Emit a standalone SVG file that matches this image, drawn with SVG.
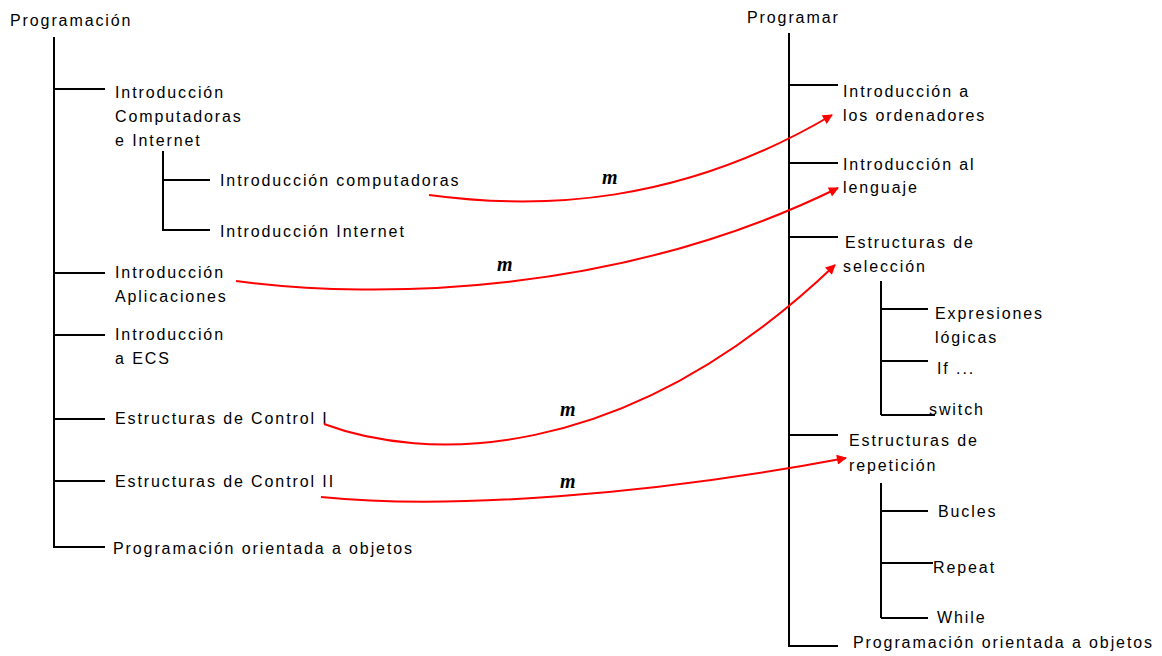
<svg xmlns="http://www.w3.org/2000/svg" width="1162" height="656" viewBox="0 0 1162 656">
  <defs>
    <style>
      .t { font-family: "Liberation Sans", Arial, sans-serif; font-size: 16px; letter-spacing: 1.9px; fill: #000; }
      .tree { stroke: #000; stroke-width: 2; fill: none; }
      .map { stroke: #ff0000; stroke-width: 2; fill: none; marker-end: url(#arrow); }
      .m { font-family: "Liberation Serif", "Times New Roman", serif; font-style: italic; font-weight: bold; font-size: 20px; fill: #000; }
    </style>
    <marker id="arrow" viewBox="0 0 10 10" refX="9" refY="5" markerWidth="11" markerHeight="10" orient="auto" markerUnits="userSpaceOnUse">
      <path d="M0,0 L10,5 L0,10 Z" fill="#ff0000"/>
    </marker>
  </defs>
  <rect width="1162" height="656" fill="#fff"/>

  <!-- Left tree: Programación -->
  <g id="left-tree">
    <g id="l-root">
      <text class="t" x="10" y="26">Programación</text>
      <path class="tree" d="M54,37 V548"/>
    </g>
    <g id="l-intro-comp-internet">
      <path class="tree" d="M54,89 H105"/>
      <text class="t" x="115" y="98">Introducción</text>
      <text class="t" x="115" y="122">Computadoras</text>
      <text class="t" x="115" y="146">e Internet</text>
      <path class="tree" d="M163,151 V231 M163,180 H210 M163,230 H210"/>
    </g>
    <g id="l-intro-computadoras">
      <text class="t" x="220" y="186">Introducción computadoras</text>
    </g>
    <g id="l-intro-internet">
      <text class="t" x="220" y="237">Introducción Internet</text>
    </g>
    <g id="l-intro-aplicaciones">
      <path class="tree" d="M54,273 H105"/>
      <text class="t" x="115" y="278">Introducción</text>
      <text class="t" x="115" y="302">Aplicaciones</text>
    </g>
    <g id="l-intro-ecs">
      <path class="tree" d="M54,335 H105"/>
      <text class="t" x="115" y="340">Introducción</text>
      <text class="t" x="115" y="364">a ECS</text>
    </g>
    <g id="l-control-1">
      <path class="tree" d="M54,419 H105"/>
      <text class="t" x="115" y="424">Estructuras de Control I</text>
    </g>
    <g id="l-control-2">
      <path class="tree" d="M54,481 H105"/>
      <text class="t" x="115" y="487">Estructuras de Control II</text>
    </g>
    <g id="l-poo">
      <path class="tree" d="M54,547 H105"/>
      <text class="t" x="113" y="554">Programación orientada a objetos</text>
    </g>
  </g>

  <!-- Right tree: Programar -->
  <g id="right-tree">
    <g id="r-root">
      <text class="t" x="747" y="23">Programar</text>
      <path class="tree" d="M789,33 V647"/>
    </g>
    <g id="r-intro-ordenadores">
      <path class="tree" d="M789,85 H838"/>
      <text class="t" x="843" y="97">Introducción a</text>
      <text class="t" x="843" y="121">los ordenadores</text>
    </g>
    <g id="r-intro-lenguaje">
      <path class="tree" d="M789,163 H838"/>
      <text class="t" x="843" y="170">Introducción al</text>
      <text class="t" x="843" y="193">lenguaje</text>
    </g>
    <g id="r-seleccion">
      <path class="tree" d="M789,237 H838"/>
      <text class="t" x="845" y="248">Estructuras de</text>
      <text class="t" x="843" y="272">selección</text>
      <path class="tree" d="M881,281 V415 M881,309 H928 M881,361 H928 M881,415 H935"/>
    </g>
    <g id="r-expresiones">
      <text class="t" x="935" y="319">Expresiones</text>
      <text class="t" x="935" y="343">lógicas</text>
    </g>
    <g id="r-if">
      <text class="t" x="937" y="374">If ...</text>
    </g>
    <g id="r-switch">
      <text class="t" x="929" y="415">switch</text>
    </g>
    <g id="r-repeticion">
      <path class="tree" d="M789,435 H838"/>
      <text class="t" x="849" y="446">Estructuras de</text>
      <text class="t" x="849" y="471">repetición</text>
      <path class="tree" d="M881,483 V618 M881,511 H928 M881,563 H933 M881,618 H928"/>
    </g>
    <g id="r-bucles">
      <text class="t" x="938" y="517">Bucles</text>
    </g>
    <g id="r-repeat">
      <text class="t" x="933" y="573">Repeat</text>
    </g>
    <g id="r-while">
      <text class="t" x="937" y="623">While</text>
    </g>
    <g id="r-poo">
      <path class="tree" d="M789,646 H838"/>
      <text class="t" x="853" y="648">Programación orientada a objetos</text>
    </g>
  </g>

  <!-- Mapping connectors -->
  <g id="connectors">
    <path class="map" d="M429,195 C540,210 680,205 832,115"/>
    <path class="map" d="M236,281 C380,300 620,295 838,188"/>
    <path class="map" d="M324,424 C420,460 620,470 835,265"/>
    <path class="map" d="M321,497 C450,510 650,495 846,458"/>
    <text class="m" x="602" y="184">m</text>
    <text class="m" x="497" y="271">m</text>
    <text class="m" x="560" y="416">m</text>
    <text class="m" x="560" y="488">m</text>
  </g>
</svg>
